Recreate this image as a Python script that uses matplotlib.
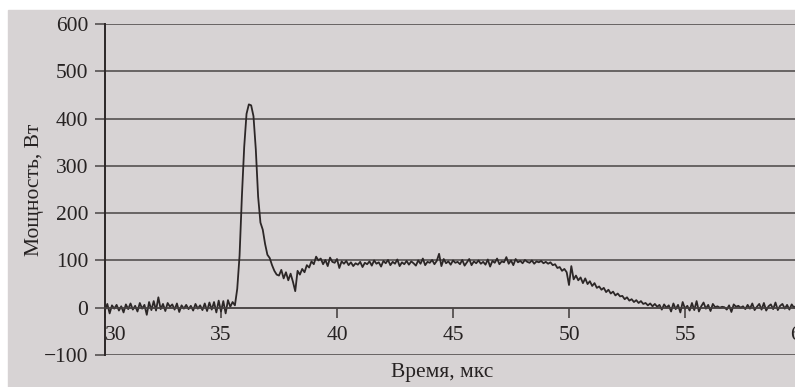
import numpy as np
import matplotlib.pyplot as plt
from matplotlib.patches import Rectangle

plt.rcParams['font.family'] = ['Liberation Serif', 'DejaVu Serif']

# time grid, step 0.1 us
t = np.round(np.arange(300, 601) / 10, 1)

# power readings, W
base = [-5, 8, -12, 5, -2, 6, -6, 3, -10, 7,
        -3, 9, -4, 4, -8, 10, -2, 6, -15, 12,
        -5, 14, -6, 22, -3, 8, -7, 10, 2, 7,
        -4, 9, -9, 5, -2, 6, -3, 4, -6, 8,
        -2, 5, -5, 9, -7, 11, -4, 12, -10, 15,
        -8, 14, -12, 16, 2, 12]
pulse = [5, 40, 110, 235, 340, 410, 430, 428, 405, 335,
         235, 180, 165, 135, 112, 105, 90, 78, 70]
recovery = [68, 80, 62, 75, 58, 72, 55, 35, 78, 70,
            82, 75, 90, 85, 98, 92, 108, 100]
plateau = [104, 92, 101, 88, 106, 97, 95, 103, 84, 98,
           93, 99, 90, 96, 88, 94, 91, 97, 86, 95,
           92, 98, 89, 100, 93, 96, 87, 99, 94, 101,
           90, 97, 93, 102, 88, 96, 92, 99, 91, 98,
           94, 89, 100, 93, 104, 90, 97, 95, 101, 92,
           99, 114, 88, 103, 94, 98, 91, 100, 95, 97,
           92, 101, 89, 96, 103, 90, 98, 94, 100, 93,
           97, 91, 102, 87, 99, 95, 104, 92, 98, 96,
           107, 93, 100, 90, 103, 96, 99, 94, 101, 97,
           95, 100, 93, 98, 96, 99, 94, 97, 93, 96]
tail = [90, 92, 84, 86, 78, 82, 75, 48, 88, 60,
        68, 58, 64, 52, 62, 50, 56, 46, 52, 42,
        45, 38, 42, 33, 38, 30, 34, 26, 30, 24,
        25, 18, 22, 15, 18, 12, 16, 10, 14, 8,
        10, 5, 9, 3, 8, 2, 6, -4, 7, 0,
        5, -8, 9, -3, 6, -10, 12, -2, 4, -6,
        10, -5, 14, -8, 3, 11, -2, 6, -7, 8,
        1, 3, 0, 2, 1, -4, 5, -9, 7, 2,
        4, 0, 3, -3, 6, -2, 9, -5, 2, 8,
        -4, 10, -6, 3, 7, -3, 11, -5, 4, 8,
        -2, 6, -4, 7, 0, 5, -3, 4]
power = np.array(base + pulse + recovery + plateau + tail)

xticks = [30, 35, 40, 45, 50, 55, 60]
yticks = [-100, 0, 100, 200, 300, 400, 500, 600]

ink = '#2c2727'
grid = '#4a4545'
txt = '#262222'
paper = '#d7d3d4'

fig = plt.figure(figsize=(7.95, 3.87), dpi=100, facecolor='white')
fig.patches.append(Rectangle((8 / 795, 0), 1, (387 - 10) / 387,
                             transform=fig.transFigure, color=paper, zorder=-10))
ax = fig.add_axes([105 / 795, 32 / 387, 696 / 795, 331 / 387])
ax.set_facecolor('none')

ax.plot(t, power, color=ink, lw=1.3)

ax.set_xlim(30, 60)
ax.set_ylim(-100, 600)
ax.set_xticks(xticks)
ax.set_yticks(yticks)
ax.grid(axis='y', color=grid, lw=1.1)
ax.set_axisbelow(True)

for s in ['top', 'right']:
    ax.spines[s].set_visible(False)
ax.spines['bottom'].set_position(('data', 0))
ax.spines['bottom'].set_color(grid)
ax.spines['bottom'].set_linewidth(1.1)
ax.spines['left'].set_color(ink)
ax.spines['left'].set_linewidth(1.4)

ax.tick_params(axis='y', direction='out', length=7, width=1.1, color=grid,
               labelsize=15.5, labelcolor=txt, pad=5)
ax.tick_params(axis='x', direction='out', length=7, width=1.2, color=grid,
               labelsize=15.5, labelcolor=txt, pad=6)
ax.get_xticklabels()[0].set_horizontalalignment('left')

ax.set_ylabel('Мощность, Вт', fontsize=15.5, color=txt, labelpad=0)
fig.text(442 / 795, 1 - 373 / 387, 'Время, мкс', fontsize=15.5, color=txt,
         ha='center', va='center')

fig.savefig('out.png', dpi=100, facecolor=fig.get_facecolor())
